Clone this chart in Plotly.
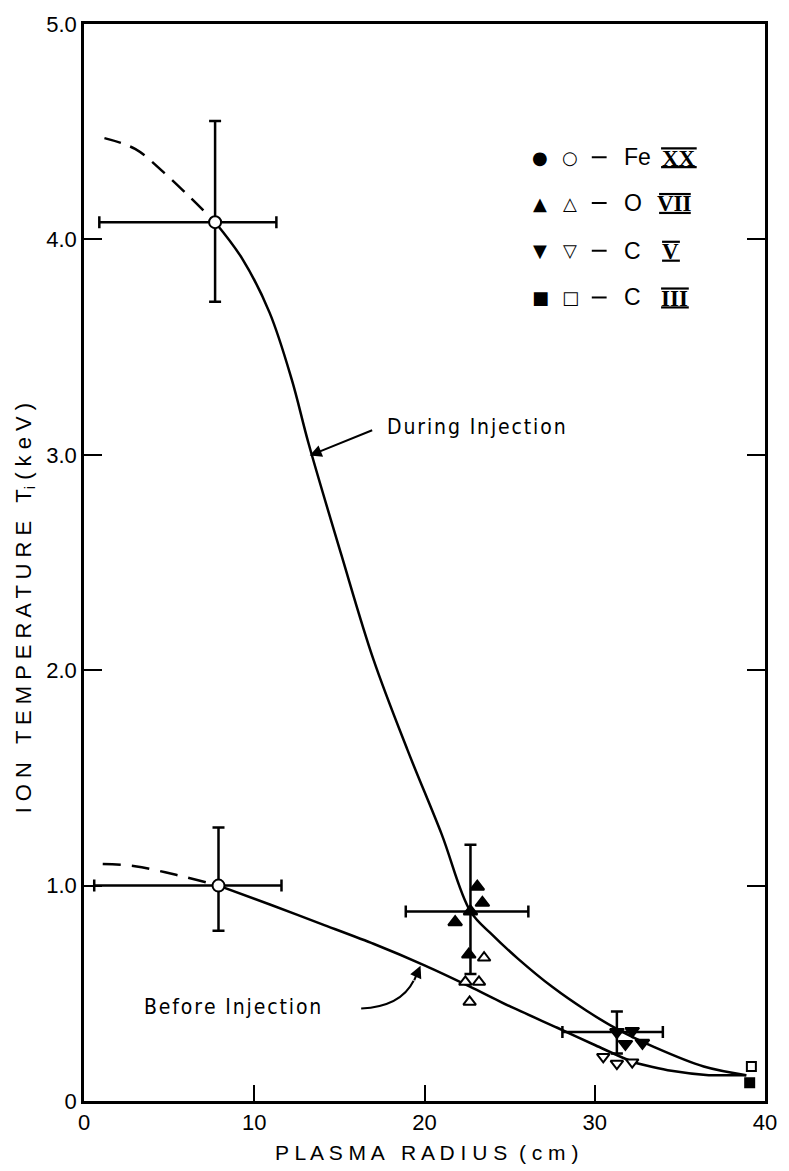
import plotly.graph_objects as go

# ---- data (radius in cm, ion temperature in keV) ----
during_dash_x = [1.2, 3.0, 4.7, 6.3, 7.7]
during_dash_y = [4.47, 4.42, 4.31, 4.19, 4.08]
during_x = [7.7, 9.3, 10.9, 12.2, 13.2, 15.1, 17.0, 19.0, 21.0, 22.7,
            24.0, 25.5, 27.5, 29.5, 31.4, 33.5, 36.4, 38.9]
during_y = [4.08, 3.91, 3.66, 3.35, 3.05, 2.54, 2.05, 1.63, 1.24, 0.88,
            0.77, 0.66, 0.53, 0.42, 0.33, 0.25, 0.16, 0.12]

before_dash_x = [1.1, 3.0, 5.4, 7.9]
before_dash_y = [1.10, 1.09, 1.05, 1.0]
before_x = [7.9, 11.0, 14.0, 17.0, 20.0, 22.7, 25.0, 27.8, 30.0, 32.3, 34.5, 36.7, 38.9]
before_y = [1.0, 0.91, 0.82, 0.73, 0.63, 0.53, 0.44, 0.34, 0.26, 0.18, 0.14, 0.12, 0.12]

# Fe XX (open circles) with their error crosses
fe_x = [7.7, 7.9]
fe_y = [4.08, 1.0]
fe_xerr_minus = [6.8, 7.3]
fe_xerr_plus = [3.6, 3.7]
fe_yerr_minus = [0.37, 0.21]
fe_yerr_plus = [0.47, 0.27]

# O VII
ovii_fill_x = [22.7, 23.1, 23.4, 21.8, 22.6]
ovii_fill_y = [0.88, 0.995, 0.92, 0.83, 0.68]
ovii_open_x = [23.5, 22.4, 23.2, 22.65]
ovii_open_y = [0.665, 0.553, 0.553, 0.46]
ovii_cross_x = [22.7]
ovii_cross_y = [0.88]
ovii_xerr_minus = [3.8]
ovii_xerr_plus = [3.4]
ovii_yerr_minus = [0.29]
ovii_yerr_plus = [0.31]

# C V
cv_fill_x = [31.3, 32.2, 31.8, 32.8]
cv_fill_y = [0.32, 0.325, 0.265, 0.27]
cv_open_x = [30.5, 31.3, 32.2]
cv_open_y = [0.205, 0.174, 0.18]
cv_cross_x = [31.3]
cv_cross_y = [0.32]
cv_xerr_minus = [3.2]
cv_xerr_plus = [2.7]
cv_yerr_minus = [0.10]
cv_yerr_plus = [0.095]

# C III
ciii_fill_x = [39.1]
ciii_fill_y = [0.085]
ciii_open_x = [39.2]
ciii_open_y = [0.16]

x_ticks = [0, 10, 20, 30, 40]
x_ticktext = ["0", "10", "20", "30", "40"]
y_ticks = [0, 1, 2, 3, 4, 5]
y_ticktext = ["0", "1.0", "2.0", "3.0", "4.0", "5.0"]

# ---- layout geometry (pixels) ----
W, H = 789, 1171
ML, MR, MT, MB = 84, 17, 18, 70
PW = W - ML - MR
PH = H - MT - MB


def px(xp):
    return (xp - ML) / PW


def py(yp):
    return (H - MB - yp) / PH


BLACK = "black"
fig = go.Figure()

# curves
fig.add_trace(go.Scatter(x=during_dash_x, y=during_dash_y, mode="lines",
                         line=dict(color=BLACK, width=2.5, dash="17px,10px", shape="spline")))
fig.add_trace(go.Scatter(x=during_x, y=during_y, mode="lines",
                         line=dict(color=BLACK, width=2.5, shape="spline", smoothing=1.0)))
fig.add_trace(go.Scatter(x=before_dash_x, y=before_dash_y, mode="lines",
                         line=dict(color=BLACK, width=2.5, dash="18px,11px", shape="spline")))
fig.add_trace(go.Scatter(x=before_x, y=before_y, mode="lines",
                         line=dict(color=BLACK, width=2.5, shape="spline", smoothing=0.6)))


# error crosses
def cross(xs, ys, xm, xp, ym, yp):
    return go.Scatter(
        x=xs, y=ys, mode="markers", marker=dict(size=1, color="rgba(0,0,0,0)"),
        error_x=dict(type="data", symmetric=False, array=xp, arrayminus=xm,
                     color=BLACK, thickness=2.5, width=6),
        error_y=dict(type="data", symmetric=False, array=yp, arrayminus=ym,
                     color=BLACK, thickness=2.5, width=6),
    )


fig.add_trace(cross(fe_x, fe_y, fe_xerr_minus, fe_xerr_plus, fe_yerr_minus, fe_yerr_plus))
fig.add_trace(cross(ovii_cross_x, ovii_cross_y, ovii_xerr_minus, ovii_xerr_plus,
                    ovii_yerr_minus, ovii_yerr_plus))
fig.add_trace(cross(cv_cross_x, cv_cross_y, cv_xerr_minus, cv_xerr_plus,
                    cv_yerr_minus, cv_yerr_plus))


def pts(xs, ys, symbol, filled, size):
    return go.Scatter(
        x=xs, y=ys, mode="markers",
        marker=dict(symbol=symbol, size=size,
                    color=BLACK if filled else "white",
                    line=dict(color=BLACK, width=2)),
    )


fig.add_trace(pts(fe_x, fe_y, "circle", False, 12))
fig.add_trace(pts(ovii_fill_x, ovii_fill_y, "triangle-up", True, 12))
fig.add_trace(pts(ovii_open_x, ovii_open_y, "triangle-up", False, 11))
fig.add_trace(pts(cv_fill_x, cv_fill_y, "triangle-down", True, 12))
fig.add_trace(pts(cv_open_x, cv_open_y, "triangle-down", False, 11))
fig.add_trace(pts(ciii_fill_x, ciii_fill_y, "square", True, 9))
fig.add_trace(pts(ciii_open_x, ciii_open_y, "square", False, 9))

annotations = []
shapes = []


def note(xp, yp, text, font, xanchor="center", **kw):
    annotations.append(dict(x=px(xp), y=py(yp), xref="paper", yref="paper",
                            xanchor=xanchor, yanchor="middle", text=text,
                            showarrow=False, font=font, **kw))


def spaced(s):
    # hair spaces between letters for the open lettering of the labels
    return "\u200a".join(s)


# key in the upper right
SANS = "Liberation Sans"
key_rows = [
    (152, "\u25CF", "\u25CB", "Fe", "XX", 667, 703),
    (198, "\u25B2", "\u25B3", "O", "VII", 665, 697),
    (246, "\u25BC", "\u25BD", "C", "V", 668, 686),
    (293, "\u25A0", "\u25A1", "C", "III", 667, 695),
]
for (yc, filled, opened, elem, num, n0, n1) in key_rows:
    note(545, yc, filled, dict(family="DejaVu Sans", size=18, color=BLACK))
    note(575, yc, opened, dict(family="DejaVu Sans", size=18, color=BLACK))
    shapes.append(dict(type="line", xref="paper", yref="paper",
                       x0=px(597), x1=px(612), y0=py(yc), y1=py(yc),
                       line=dict(color=BLACK, width=2)))
    note(628, yc, elem, dict(family=SANS, size=23, color=BLACK), xanchor="left")
    note((n0 + n1) / 2, yc + 1, "<b>" + num + "</b>",
         dict(family="Liberation Serif", size=23, color=BLACK))
    for yb in (yc - 9, yc + 10):
        shapes.append(dict(type="line", xref="paper", yref="paper",
                           x0=px(n0), x1=px(n1), y0=py(yb), y1=py(yb),
                           line=dict(color=BLACK, width=2.2)))

# curve labels
LABEL_FONT = dict(family="DejaVu Sans Condensed", size=21, color=BLACK)
note(388, 423, spaced("During Injection"), LABEL_FONT, xanchor="left")
annotations.append(dict(x=px(312), y=py(452), xref="paper", yref="paper",
                        ax=64, ay=-26, text="", showarrow=True, arrowhead=2,
                        arrowsize=1.2, arrowwidth=2, arrowcolor=BLACK))
note(143, 1006, spaced("Before Injection"), LABEL_FONT, xanchor="left")
shapes.append(dict(type="path", xref="paper", yref="paper",
                   path="M {:.4f} {:.4f} Q {:.4f} {:.4f} {:.4f} {:.4f}".format(
                       px(364), py(1008), px(404), py(1006), px(417), py(980)),
                   line=dict(color=BLACK, width=2)))
annotations.append(dict(x=px(424), y=py(965), xref="paper", yref="paper",
                        ax=-7, ay=16, text="", showarrow=True, arrowhead=2,
                        arrowsize=1.2, arrowwidth=2, arrowcolor=BLACK))

# axis titles
TITLE_FONT = dict(family=SANS, size=22, color=BLACK)
note(24, 605, "I O N   T E M P E R A T U R E   T<sub>i</sub> ( k e V )", TITLE_FONT,
     textangle=-90)
note(430, 1153, "P L A S M A   R A D I U S  ( c m )", dict(family=SANS, size=21, color=BLACK))

fig.update_layout(
    width=W, height=H,
    margin=dict(l=ML, r=MR, t=MT, b=MB, pad=0),
    paper_bgcolor="white", plot_bgcolor="white",
    showlegend=False,
    annotations=annotations, shapes=shapes,
    font=dict(family=SANS, color=BLACK),
)
fig.update_xaxes(
    range=[0, 40], tickvals=x_ticks, ticktext=x_ticktext,
    ticks="inside", ticklen=16, tickwidth=2, tickcolor=BLACK,
    showline=True, linewidth=2.5, linecolor=BLACK, mirror=True,
    showgrid=False, zeroline=False,
    tickfont=dict(family=SANS, size=22, color=BLACK),
)
fig.update_yaxes(
    range=[0, 5], tickvals=y_ticks, ticktext=y_ticktext,
    ticks="inside", ticklen=18, tickwidth=2, tickcolor=BLACK,
    showline=True, linewidth=2.5, linecolor=BLACK, mirror="ticks",
    showgrid=False, zeroline=False,
    tickfont=dict(family=SANS, size=22, color=BLACK),
)

fig.write_html("out.html")
